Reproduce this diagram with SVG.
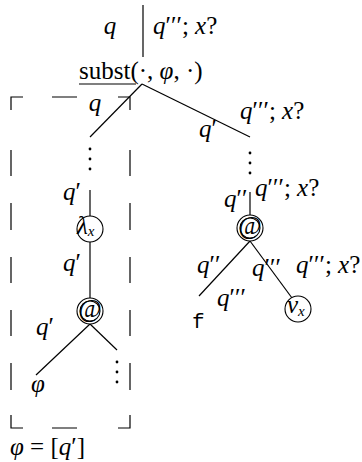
<svg xmlns="http://www.w3.org/2000/svg" width="362" height="462" viewBox="0 0 362 462">
<style>
.t{font-family:"Liberation Serif","DejaVu Serif",serif;font-size:25px;fill:#000}
.i{font-style:italic}
.m{font-family:"Liberation Mono","DejaVu Sans Mono",monospace;font-size:21px}
.ln{stroke:#000;stroke-width:1.2;fill:none}
.dash{stroke:#000;stroke-width:1.2;fill:none}
.c{stroke:#000;stroke-width:1.1;fill:#fff}
.dot{fill:#000}
</style>
<rect width="362" height="462" fill="#fff"/>
<g id="connectors">
<path class="ln" d="M143 5 V57"/>
<path class="ln" d="M142 84 L90 137"/>
<path class="ln" d="M142 84 L250 137"/>
<path class="ln" d="M90 190 V216"/>
<path class="ln" d="M90 242 V298"/>
<path class="ln" d="M90 324 L36 375"/>
<path class="ln" d="M90 324 L117 350"/>
<path class="ln" d="M250 192 V215"/>
<path class="ln" d="M250 241 L199 296"/>
<path class="ln" d="M250 241 L292 298"/>
</g>
<g id="box">
<path class="dash" d="M11 110 V97 H23 M52 97 H77 M118 97 H130 V110 M11 150 V176 M11 203 V230 M11 257 V283 M11 310 V336 M11 363 V390 M11 415 V428 H23 M52 428 H77 M118 428 H130 V415 M130 150 V176 M130 203 V230 M130 257 V283 M130 310 V336 M130 363 V390"/>
</g>
<g id="top-labels">
<text class="t i" x="110" y="34" text-anchor="middle">q</text>
<text class="t" x="153" y="34"><tspan class="i">q</tspan>′′′; <tspan class="i">x</tspan>?</text>
</g>
<g id="subst">
<text class="t" x="79" y="79">subst(·, <tspan class="i">φ</tspan>, ·)</text>
<path class="ln" d="M79 84 H136"/>
</g>
<g id="left-branch-labels">
<text class="t i" x="95" y="111" text-anchor="middle">q</text>
<circle class="dot" cx="90" cy="149" r="1.4"/>
<circle class="dot" cx="90" cy="159" r="1.4"/>
<circle class="dot" cx="90" cy="169" r="1.4"/>
<text class="t" x="63" y="200"><tspan class="i">q</tspan>′</text>
</g>
<g id="lambda">
<circle class="c" cx="90" cy="229" r="13"/>
<text class="t i" x="77" y="234" font-size="26">λ<tspan font-size="15" dy="2">x</tspan></text>
</g>
<g id="lbl-q1">
<text class="t" x="63" y="271"><tspan class="i">q</tspan>′</text>
</g>
<g id="app-left">
<circle class="c" cx="90" cy="311" r="13"/>
<circle class="c" cx="90" cy="311" r="10"/>
<text class="t" x="90" y="317" text-anchor="middle" font-size="17">@</text>
</g>
<g id="left-bottom">
<text class="t" x="36" y="335"><tspan class="i">q</tspan>′</text>
<text class="t i" x="38" y="392" text-anchor="middle">φ</text>
<circle class="dot" cx="117" cy="362" r="1.4"/>
<circle class="dot" cx="117" cy="372" r="1.4"/>
<circle class="dot" cx="117" cy="382" r="1.4"/>
</g>
<g id="right-branch">
<text class="t" x="240" y="119"><tspan class="i">q</tspan>′′′; <tspan class="i">x</tspan>?</text>
<text class="t" x="199" y="137"><tspan class="i">q</tspan>′</text>
<circle class="dot" cx="250" cy="153" r="1.4"/>
<circle class="dot" cx="250" cy="163" r="1.4"/>
<circle class="dot" cx="250" cy="173" r="1.4"/>
<text class="t" x="224" y="207"><tspan class="i">q</tspan>′′</text>
<text class="t" x="255" y="196"><tspan class="i">q</tspan>′′′; <tspan class="i">x</tspan>?</text>
</g>
<g id="app-right">
<circle class="c" cx="250" cy="228" r="13"/>
<circle class="c" cx="250" cy="228" r="10"/>
<text class="t" x="250" y="234" text-anchor="middle" font-size="17">@</text>
</g>
<g id="right-lower">
<text class="t" x="197" y="273"><tspan class="i">q</tspan>′′</text>
<text class="t" x="252" y="276"><tspan class="i">q</tspan>′′′</text>
<text class="t" x="296" y="273"><tspan class="i">q</tspan>′′′; <tspan class="i">x</tspan>?</text>
<text class="t" x="217" y="306"><tspan class="i">q</tspan>′′′</text>
</g>
<g id="f">
<text class="m" x="192" y="328">f</text>
</g>
<g id="var">
<circle class="c" cx="298" cy="309" r="13"/>
<text class="t i" x="287" y="313">v<tspan font-size="15" dy="3">x</tspan></text>
</g>
<g id="caption">
<text class="t" x="10" y="455"><tspan class="i">φ</tspan> = [<tspan class="i">q</tspan>′]</text>
</g>
</svg>
